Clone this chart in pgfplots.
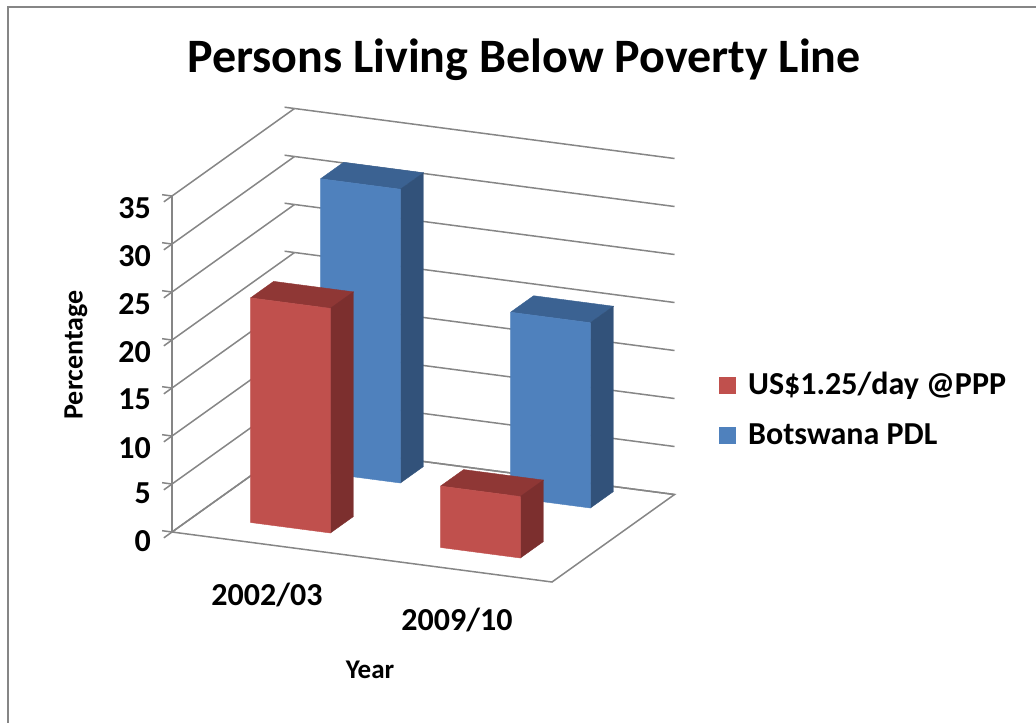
\documentclass[border=0pt]{standalone}
\usepackage{pgfplots}
\pgfplotsset{compat=1.18}
\usepackage{fontspec}
\setmainfont{Carlito}
\definecolor{gridgray}{RGB}{134,134,134}
\definecolor{redfront}{HTML}{C0504D}
\definecolor{redtop}{HTML}{8F3735}
\definecolor{redside}{HTML}{7C2F2E}
\definecolor{bluefront}{HTML}{4F81BD}
\definecolor{bluetop}{HTML}{3B6292}
\definecolor{blueside}{HTML}{32527A}
% cuboid bar: #1 x-left, #2 x-right, #3 y-front, #4 y-back, #5 value, #6 colour prefix
\newcommand{\cuboid}[6]{%
\addplot3[fill=#6top,draw=#6top,line width=0.2pt,mark=none,forget plot] coordinates {(#1,#3,#5) (#2,#3,#5) (#2,#4,#5) (#1,#4,#5) (#1,#3,#5)};
\addplot3[fill=#6side,draw=#6side,line width=0.2pt,mark=none,forget plot] coordinates {(#2,#3,0) (#2,#4,0) (#2,#4,#5) (#2,#3,#5) (#2,#3,0)};
\addplot3[fill=#6front,draw=#6front,line width=0.2pt,mark=none,forget plot] coordinates {(#1,#3,0) (#2,#3,0) (#2,#3,#5) (#1,#3,#5) (#1,#3,0)};
}
\begin{document}
\begin{tikzpicture}
\path[use as bounding box] (0,0) rectangle (518pt,-361pt);
\draw[gridgray, line width=1pt] (4pt,-3.5pt) rectangle (540pt,-380pt);
\node[font=\bfseries\fontsize{24}{28}\selectfont] at (262pt,-30pt) {Persons Living Below Poverty Line};
\node[font=\bfseries\fontsize{14}{16}\selectfont, rotate=90] at (38pt,-177.5pt) {Percentage};
\node[font=\bfseries\fontsize{13.5}{16}\selectfont] at (185pt,-335pt) {Year};
\begin{axis}[
  at={(86pt,-266pt)}, anchor=origin,
  x={(95pt,-12.5pt)}, y={(35pt,25pt)}, z={(0pt,4.8pt)},
  xmin=0, xmax=2, ymin=0, ymax=1.75, zmin=0, zmax=35,
  xtick=\empty, ytick=\empty, ztick={0,5,...,35},
  zmajorgrids, major grid style={gridgray, line width=0.75pt},
  axis line style={draw=none},
  tick pos=left,
  tick align=outside, major tick length=5pt,
  tick style={gridgray, line width=0.75pt},
  ticklabel style={font=\bfseries\fontsize{16}{18}\selectfont},
  zticklabel style={xshift=-3pt},
  /pgf/number format/assume math mode=true,
  clip=false,
]
\draw[gridgray, line width=0.75pt] (axis cs:0,0,0) -- (axis cs:2,0,0) -- (axis cs:2,1.75,0) -- (axis cs:0,1.75,0) -- cycle;
\draw[gridgray, line width=0.75pt] (axis cs:0,0,0) -- (axis cs:0,0,35);
% Botswana PDL (back row)
\cuboid{0.29}{0.71}{1.335}{1.665}{30.6}{blue}
\cuboid{1.29}{1.71}{1.335}{1.665}{19.3}{blue}
% US$1.25/day @PPP (front row)
\cuboid{0.29}{0.71}{0.335}{0.665}{23.4}{red}
\cuboid{1.29}{1.71}{0.335}{0.665}{6.4}{red}
\node[font=\bfseries\fontsize{16}{18}\selectfont, yshift=-25pt] at (axis cs:0.5,0,0) {2002/03};
\node[font=\bfseries\fontsize{16}{18}\selectfont, yshift=-25pt] at (axis cs:1.5,0,0) {2009/10};
\end{axis}
\begin{axis}[
  at={(0pt,-361pt)}, anchor=south west, scale only axis,
  width=518pt, height=361pt,
  xmin=0, xmax=1, ymin=0, ymax=1, hide axis,
  legend cell align=left,
  legend style={at={(0.688,0.432)}, anchor=west, draw=none, fill=none,
    font=\bfseries\fontsize{16}{18}\selectfont, row sep=9pt},
  legend image code/.code={\fill[#1] (0pt,-4.2pt) rectangle (8.4pt,4.2pt); \path (12.5pt,0pt);},
]
\addlegendimage{fill=redfront, draw=none}
\addlegendentry{US\$1.25/day @PPP}
\addlegendimage{fill=bluefront, draw=none}
\addlegendentry{Botswana PDL}
\end{axis}
\end{tikzpicture}
\end{document}
